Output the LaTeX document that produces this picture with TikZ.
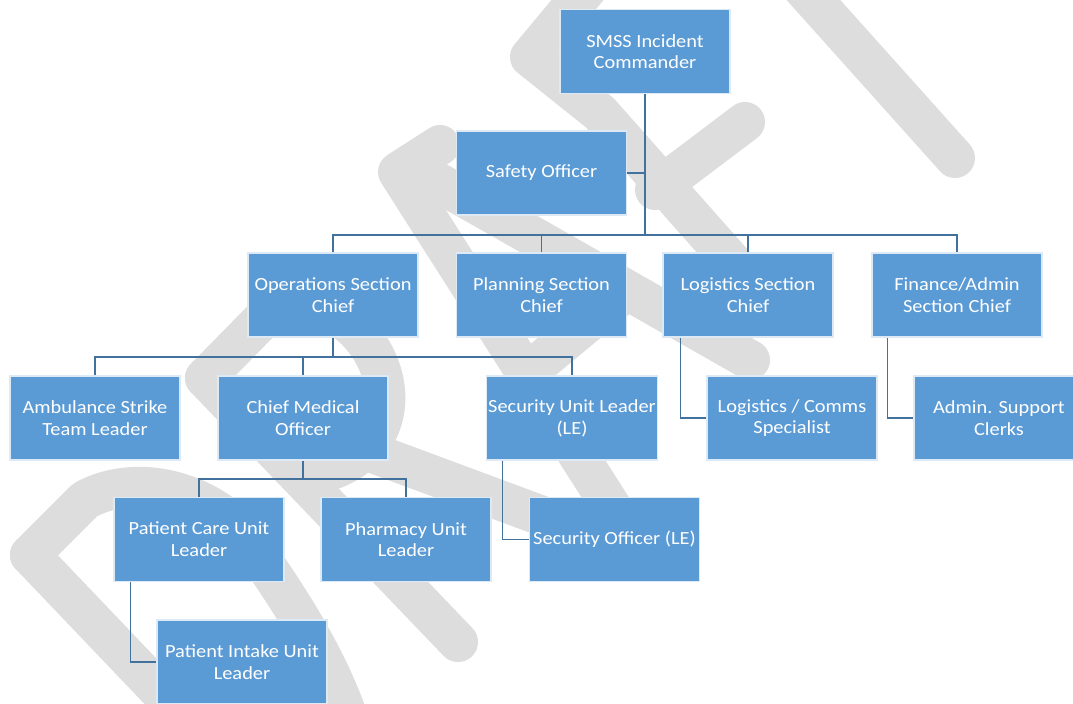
\documentclass[tikz,border=0pt]{standalone}
\usepackage{fontspec}
\setmainfont{Carlito}[FakeStretch=1.1]
\definecolor{boxblue}{RGB}{91,155,213}
\definecolor{boxedge}{RGB}{222,233,246}
\definecolor{linkblue}{RGB}{65,113,156}
\definecolor{draftgray}{RGB}{221,221,221}
\begin{document}
\begin{tikzpicture}[x=0.75pt,y=-0.75pt,
  role/.style={draw=boxedge, line width=0.8pt, fill=boxblue, text=white,
    minimum width=127.5pt, minimum height=63pt, inner sep=1pt, align=center,
    font=\fontsize{13.9}{16.3}\selectfont},
  link/.style={draw=linkblue, line width=1.2pt},
  draftstroke/.style={draw=draftgray, line width=30pt, line cap=round, line join=round}]

\useasboundingbox (0,0) rectangle (1073,703);
\fill[white] (0,0) rectangle (1073,703);
\clip (0,0) rectangle (1073,703);

% DRAFT watermark, drawn as broad gray strokes behind the chart
% D
\draw[draftstroke] (30,555) -- (197,730);
\draw[draftstroke] (30,555) -- (85,500) .. controls (130,475) and (200,485) .. (245,535)
  .. controls (290,600) and (330,660) .. (352,730);
% R
\draw[draftstroke] (205,378) -- (458,642);
\draw[draftstroke] (205,378) -- (262,320) .. controls (300,282) and (368,318) .. (383,378)
  .. controls (395,430) and (360,470) .. (305,476);
\draw[draftstroke] (370,452) -- (580,530);
% A
\draw[draftstroke] (612,508) -- (398,172) -- (440,145);
\draw[draftstroke] (425,175) -- (750,360);
\draw[draftstroke] (528,372) -- (615,300);
% F
\draw[draftstroke] (590,-15) -- (530,57) -- (600,113) -- (770,305);
\draw[draftstroke] (655,190) -- (745,122);
% T
\draw[draftstroke] (800,-15) -- (955,158);

% command and general staff
\node[role] (smss)   at (645,51.5)  {SMSS Incident\\Commander};
\node[role] (safety) at (541.5,173) {Safety Officer};
\node[role] (ops)    at (333,295)   {Operations Section\\Chief};
\node[role] (plan)   at (541.5,295) {Planning Section\\Chief};
\node[role] (logi)   at (748,295)   {Logistics Section\\Chief};
\node[role] (fin)    at (957,295)   {Finance/Admin\\Section Chief};
% units
\node[role] (amb)    at (95,418)    {Ambulance Strike\\Team Leader};
\node[role] (cmo)    at (303,418)   {Chief Medical\\Officer};
\node[role] (secu)   at (572,418)   {Security Unit Leader\\(LE)};
\node[role] (comms)  at (792,418)   {Logistics / Comms\\Specialist};
\node[role] (admin)  at (999,418)   {Admin. Support\\Clerks};
\node[role] (pcare)  at (199,539.5) {Patient Care Unit\\Leader};
\node[role] (pharm)  at (406,539.5) {Pharmacy Unit\\Leader};
\node[role] (secoff) at (614.5,539.5) {Security Officer (LE)};
\node[role] (intake) at (242,662)   {Patient Intake Unit\\Leader};

% reporting lines
\coordinate (topbus) at (645,235);
\coordinate (opsbus) at (333,357);
\coordinate (cmobus) at (303,479);
\draw[link] (smss.south) -- (topbus);
\draw[link] (safety.east) -- (safety.east -| topbus);
\draw[link] (ops.north) |- (fin.north |- topbus) -- (fin.north);
\draw[link] (plan.north) -- (plan.north |- topbus);
\draw[link] (logi.north) -- (logi.north |- topbus);
\draw[link] (ops.south) -- (opsbus);
\draw[link] (amb.north) |- (secu.north |- opsbus) -- (secu.north);
\draw[link] (cmo.north) -- (cmo.north |- opsbus);
\draw[link] (cmo.south) -- (cmobus);
\draw[link] (pcare.north) |- (pharm.north |- cmobus) -- (pharm.north);
\draw[link] ([xshift=12.75pt]pcare.south west) |- (intake.west);
\draw[link] ([xshift=12pt]secu.south west) |- (secoff.west);
\draw[link] ([xshift=13.5pt]logi.south west) |- (comms.west);
\draw[link] ([xshift=12pt]fin.south west) |- (admin.west);
\end{tikzpicture}
\end{document}
